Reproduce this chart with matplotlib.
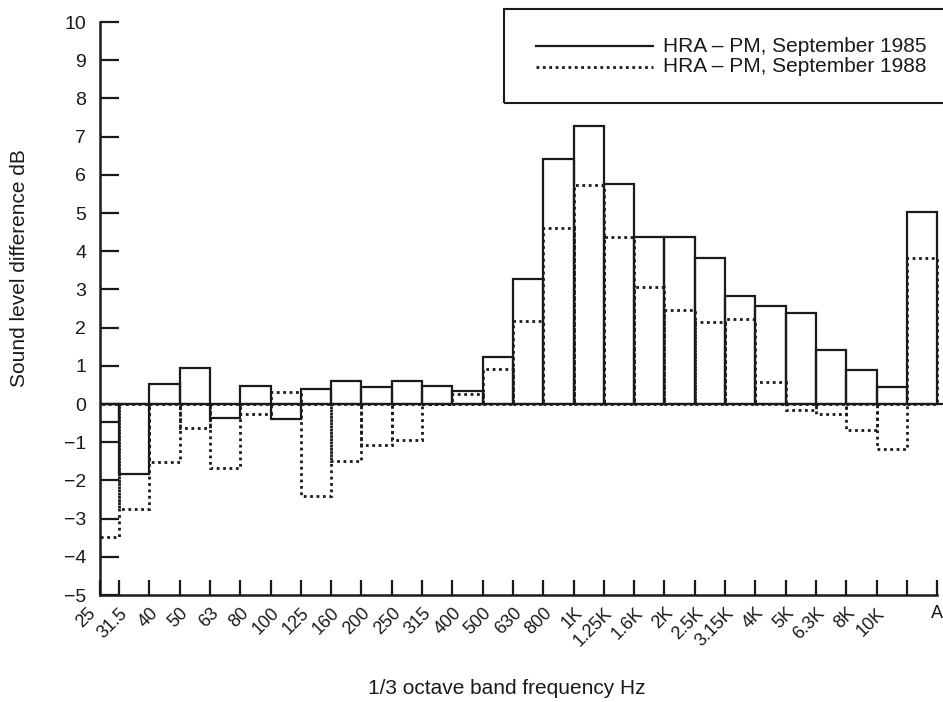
import numpy as np
import matplotlib.pyplot as plt
from matplotlib.lines import Line2D
from matplotlib.patches import Rectangle
from matplotlib.transforms import ScaledTranslation

# 1/3 octave bands (bar names) and the labels printed at the bar edges
bands = ['25', '31.5', '40', '50', '63', '80', '100', '125', '160', '200',
         '250', '315', '400', '500', '630', '800', '1K', '1.25K', '1.6K',
         '2K', '2.5K', '3.15K', '4K', '5K', '6.3K', '8K', '10K', 'A']
edge_labels = bands[:-1] + ['', 'A']

# sound level difference, dB
sept1985 = [-0.47, -1.84, 0.53, 0.94, -0.36, 0.47, -0.39, 0.39, 0.60, 0.45,
            0.59, 0.46, 0.34, 1.24, 3.28, 6.42, 7.27, 5.76, 4.36, 4.38,
            3.82, 2.84, 2.56, 2.39, 1.42, 0.89, 0.45, 5.02]
sept1988 = [-3.47, -2.75, -1.52, -0.62, -1.68, -0.25, 0.32, -2.42, -1.50, -1.08,
            -0.94, 0.0, 0.26, 0.92, 2.17, 4.60, 5.73, 4.38, 3.06, 2.47,
            2.14, 2.23, 0.58, -0.16, -0.25, -0.67, -1.19, 3.82]

plt.rcParams['font.family'] = ['Liberation Sans', 'DejaVu Sans']
ink = '#1a1a1a'
dots = (0, (1, 1.3))

fig = plt.figure(figsize=(9.43, 7.02), dpi=100)
ax = fig.add_axes([0.10604, 0.15242, 0.89396, 0.81624])

x = np.arange(len(bands))
xl = 0.373

ax.bar(x, sept1988, width=1.0, align='edge', fill=False, edgecolor=ink,
       linewidth=2.0, linestyle=dots)
ax.bar(x, sept1985, width=1.0, align='edge', fill=False, edgecolor=ink,
       linewidth=1.6)
ax.axhline(0, color=ink, lw=1.6)

ax.set_xlim(xl, 28.19)
ax.set_ylim(-5.0, 10.0)

for s in ['top', 'right']:
    ax.spines[s].set_visible(False)
for s in ['left', 'bottom']:
    ax.spines[s].set_linewidth(1.8)
    ax.spines[s].set_color(ink)
ax.spines['bottom'].set_bounds(xl, 28)

ax.set_yticks(range(-5, 11))
ax.tick_params(axis='y', direction='in', length=14, width=1.6, pad=10,
               labelsize=14, colors=ink)
ax.set_xticks([xl] + list(range(1, 29)))
ax.set_xticklabels(edge_labels, rotation=45, ha='right', va='top',
                   rotation_mode='anchor')
ax.tick_params(axis='x', direction='in', length=11, width=1.6, pad=7,
               labelsize=13, colors=ink)

# the "25" label sits a little left of the axis corner
labs = ax.get_xticklabels()
labs[0].set_transform(labs[0].get_transform() +
                      ScaledTranslation(-9 / 72, 0, fig.dpi_scale_trans))
# "A" stands upright at the right end
labs[-1].set_rotation(0)
labs[-1].set_transform(labs[-1].get_transform() +
                       ScaledTranslation(4 / 72, 0, fig.dpi_scale_trans))

fig.text(0.0212, 0.618, 'Sound level difference dB', rotation=90,
         ha='center', va='center', fontsize=15, color=ink)
fig.text(0.5376, 0.0199, '1/3 octave band frequency Hz', ha='center',
         va='center', fontsize=15, color=ink)

# legend box, cut by the right edge as in the scan
fig.add_artist(Rectangle((504 / 943, 1 - 103 / 702), 0.6, 94 / 702,
                         transform=fig.transFigure, fill=False,
                         edgecolor=ink, lw=1.5, clip_on=False))
for yy, ls, lab in [(46, '-', 'HRA \u2013 PM, September 1985'),
                    (67, dots, 'HRA \u2013 PM, September 1988')]:
    yf = 1 - yy / 702
    fig.add_artist(Line2D([536 / 943, 653 / 943], [yf, yf],
                          transform=fig.transFigure, color=ink,
                          lw=1.6 if ls == '-' else 2.0, linestyle=ls))
    fig.text(663 / 943, yf, lab, ha='left', va='center', fontsize=15,
             color=ink)

fig.savefig('out.png', dpi=100)
